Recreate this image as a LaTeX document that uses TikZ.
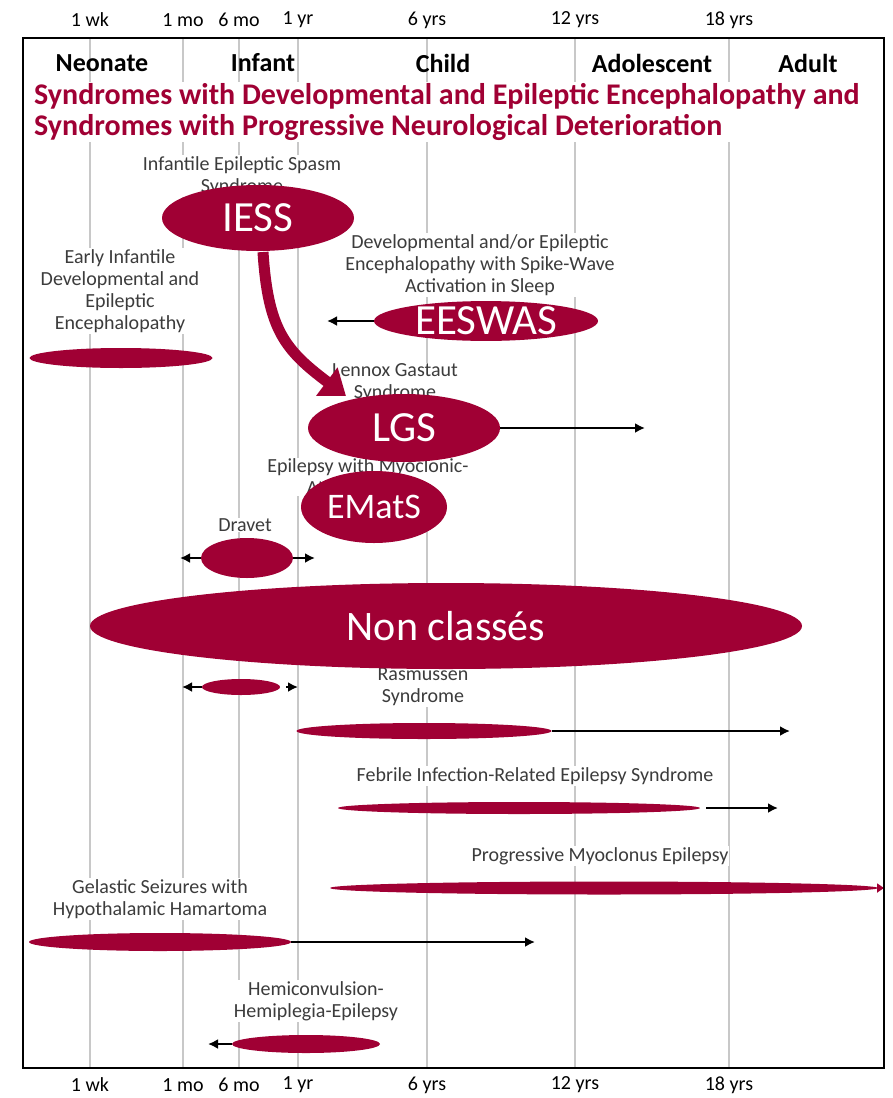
\documentclass[tikz,border=0pt]{standalone}
\usepackage{fontspec}
\setmainfont{Carlito}
\usetikzlibrary{arrows.meta,shapes.geometric}
\definecolor{crim}{RGB}{160,0,52}
\definecolor{txt}{RGB}{60,60,60}
\definecolor{grid}{RGB}{200,200,200}
\tikzset{
  ell/.style={ellipse, fill=crim, draw=none, inner sep=0pt, text=white},
  lbl/.style={text=txt, font=\fontsize{20}{22}\selectfont, align=center, fill=white, inner sep=1pt},
  axl/.style={text=black, font=\fontsize{20}{22}\selectfont},
  hdr/.style={text=black, font=\bfseries\fontsize{26}{28}\selectfont},
  arr/.style={draw=black, line width=2.4pt, -{Latex[length=10pt,width=10pt]}},
  gridline/.style={draw=grid, line width=1.2pt}
}
\begin{document}
\begin{tikzpicture}[x=1pt,y=-1pt]
\useasboundingbox (0,0) rectangle (892,1098);
\fill[white] (0,0) rectangle (892,1098);
% grid lines
\foreach \x in {90,183,239,298,427,575,729}{
  \draw[gridline] (\x,38) -- (\x,1068);
}
% axis labels
\foreach \x/\t/\n in {90/1 wk/a,183/1 mo/b,239/6 mo/c,298/1 yr/d,427/6 yrs/e,575/12 yrs/f,729/18 yrs/g}{
  \node[axl] (top\n) at (\x,20) {\t};
  \node[axl] (bot\n) at (\x,1085) {\t};
}
% header
\node[hdr] (neo) at (102,63) {Neonate};
\node[hdr] (inf) at (263,63) {Infant};
\node[hdr] (chi) at (443,63) {Child};
\node[hdr] (ado) at (652,63) {Adolescent};
\node[hdr] (adu) at (808,63) {Adult};
\node[anchor=west, text=crim, font=\bfseries\fontsize{30}{31}\selectfont, align=left, fill=white, inner sep=1pt] (title) at (33,112)
  {Syndromes with Developmental and Epileptic Encephalopathy and\\Syndromes with Progressive Neurological Deterioration};

% labels
\node[lbl] (iessl) at (242,176) {Infantile Epileptic Spasm\\Syndrome};
\node[lbl] (eidl) at (120,291) {Early Infantile\\Developmental and\\Epileptic\\Encephalopathy};
\node[lbl] (eeswl) at (480,265) {Developmental and/or Epileptic\\Encephalopathy with Spike-Wave\\Activation in Sleep};
\node[lbl] (lgsl) at (395,383) {Lennox Gastaut\\Syndrome};
\node[lbl] (emasl) at (368,477) {Epilepsy with Myoclonic-\\Atonic Seizures};
\node[lbl] (dravl) at (245,525) {Dravet};
\node[lbl] (rasl) at (423,687) {Rasmussen\\Syndrome};
\node[lbl] (firl) at (535,776) {Febrile Infection-Related Epilepsy Syndrome};
\node[lbl] (pmel) at (600,856) {Progressive Myoclonus Epilepsy};
\node[lbl] (gell) at (160,899) {Gelastic Seizures with\\Hypothalamic Hamartoma};
\node[lbl] (heml) at (316,1001) {Hemiconvulsion-\\Hemiplegia-Epilepsy};

% ellipses
\node[ell, minimum width=183pt, minimum height=20pt] (eid) at (121,358) {};
\node[ell, minimum width=224pt, minimum height=38pt, font=\fontsize{43}{43}\selectfont] (eesw) at (486,321) {EESWAS};
\node[ell, minimum width=192pt, minimum height=66pt, font=\fontsize{43}{43}\selectfont] (iess) at (258,218) {IESS};
\node[ell, minimum width=192pt, minimum height=68pt, font=\fontsize{43}{43}\selectfont] (lgs) at (404,428) {LGS};
\node[ell, minimum width=146pt, minimum height=72pt, font=\fontsize{36}{36}\selectfont] (emas) at (374,507) {EMatS};
\node[ell, minimum width=92pt, minimum height=40pt] (drav) at (247,558) {};
\node[ell, minimum width=78pt, minimum height=16pt] (sm) at (241,687) {};
\node[ell, minimum width=712pt, minimum height=86pt, font=\fontsize{42}{42}\selectfont] (nc) at (446,626) {Non classés};
\node[ell, minimum width=255pt, minimum height=16pt] (ras) at (424,731) {};
\node[ell, minimum width=362pt, minimum height=12pt] (fir) at (519,808) {};
\node[ell, minimum width=548pt, minimum height=13pt] (pme) at (604,888) {};
\node[ell, minimum width=262pt, minimum height=18pt] (gel) at (160,942) {};
\node[ell, minimum width=148pt, minimum height=18pt] (hem) at (306,1044) {};

% coordinates
\coordinate (eeswE) at (327,321);
\coordinate (lgsE) at (645,428);
\coordinate (dravL) at (180,558);
\coordinate (dravR) at (315,558);
\coordinate (smL) at (182,687);
\coordinate (smR) at (298,687);
\coordinate (rasE) at (790,731);
\coordinate (firA) at (706,808);
\coordinate (firB) at (778,808);
\coordinate (pmeE) at (884,888);
\coordinate (gelE) at (535,942);
\coordinate (hemE) at (208,1044);
\coordinate (iessS) at (263,252);
\coordinate (lgsT) at (346,396);

% connectors
\draw[arr] (eesw.west) -- (eeswE);
\draw[arr] (lgs.east) -- (lgsE);
\draw[arr] (drav.west) -- (dravL);
\draw[arr] (drav.east) -- (dravR);
\draw[arr] (sm.west) -- (smL);
\draw[arr] ([xshift=6pt]sm.east) -- (smR);
\draw[arr] (ras.east) -- (rasE);
\draw[arr] (firA) -- (firB);
\draw[draw=crim, line width=2pt, -{Triangle[length=7pt,width=9pt]}] (pme.east) -- (pmeE);
\draw[arr] (gel.east) -- (gelE);
\draw[arr] (hem.west) -- (hemE);
\draw[draw=crim, line width=11pt, -{Triangle[length=24pt,width=34pt]}] (iessS) .. controls (268,330) and (285,350) .. (lgsT);

% frame
\draw[black, line width=2pt] (23,38) rectangle (884,1068);
\end{tikzpicture}
\end{document}
